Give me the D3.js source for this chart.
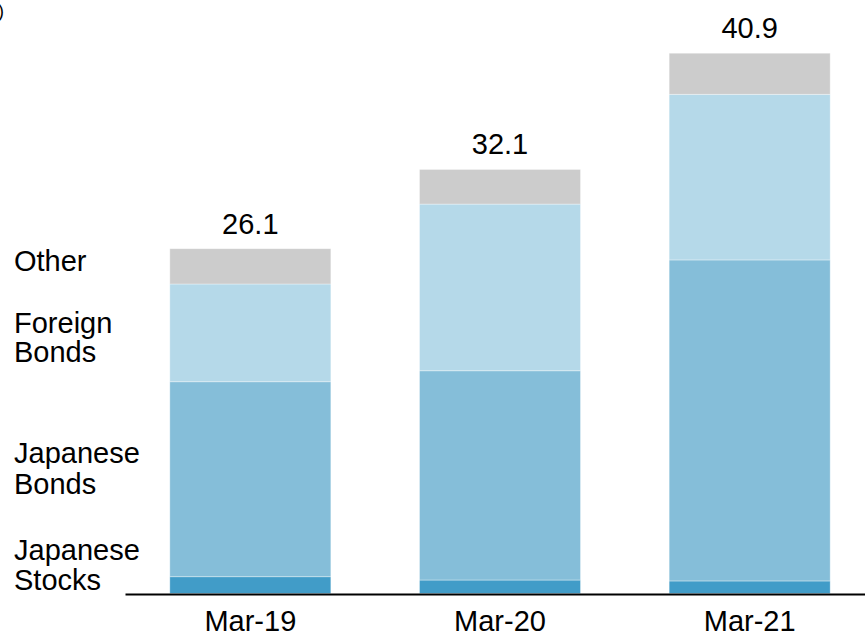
<!DOCTYPE html>
<html>
<head>
<meta charset="utf-8">
<script src="https://cdn.jsdelivr.net/npm/d3@7/dist/d3.min.js"></script>
<style>
  html, body { margin: 0; padding: 0; background: #fff; }
  svg { display: block; font-family: "Liberation Sans", Arial, sans-serif; }
</style>
</head>
<body>
<svg id="chart" width="865" height="635"></svg>
<script>
// Fiscal year-end balances (trillion yen), stacked bottom to top
const categories = ["Mar-19", "Mar-20", "Mar-21"];
const seriesNames = ["Japanese Stocks", "Japanese Bonds", "Foreign Bonds", "Other"];
const japaneseStocks = [1.27, 1.02, 0.95];
const japaneseBonds = [14.76, 15.84, 24.30];
const foreignBonds = [7.40, 12.62, 12.54];
const other = [2.67, 2.62, 3.11];
const totals = [26.1, 32.1, 40.9];
const seriesLabels = [["Japanese", "Stocks"], ["Japanese", "Bonds"], ["Foreign", "Bonds"], ["Other"]];
const unitLabel = "(Trillion yen)";

const colors = ["#419cc8", "#85bed9", "#b5d9e9", "#cccccc"];

const W = 865, H = 635;
const baseY = 593.5;
const fontSize = 29;
const svg = d3.select("#chart");

const rows = categories.map((c, i) => ({
  cat: c,
  "Japanese Stocks": japaneseStocks[i],
  "Japanese Bonds": japaneseBonds[i],
  "Foreign Bonds": foreignBonds[i],
  "Other": other[i],
  total: totals[i]
}));

const x = d3.scaleBand()
  .domain(categories)
  .range([125.5, 874.5])
  .paddingInner(0.355)
  .paddingOuter(0.1775);

const y = d3.scaleLinear()
  .domain([0, 45])
  .range([baseY, baseY - 45 * 13.21]);

const stacked = d3.stack().keys(seriesNames)(rows);

// Stacked segments
svg.append("g")
  .selectAll("g")
  .data(stacked)
  .join("g")
    .attr("fill", (d, i) => colors[i])
  .selectAll("rect")
  .data(d => d)
  .join("rect")
    .attr("x", d => x(d.data.cat))
    .attr("width", x.bandwidth())
    .attr("y", d => y(d[1]))
    .attr("height", d => y(d[0]) - y(d[1]))
    .attr("stroke", "#ffffff")
    .attr("stroke-opacity", 0.45)
    .attr("stroke-width", 0.8);

// Totals above bars
svg.append("g")
  .selectAll("text")
  .data(rows)
  .join("text")
    .attr("x", d => x(d.cat) + x.bandwidth() / 2)
    .attr("y", d => y(d.total) - 15)
    .attr("text-anchor", "middle")
    .attr("font-size", fontSize)
    .attr("fill", "#000")
    .text(d => d.total.toFixed(1));

// Baseline axis
const xAxis = d3.axisBottom(x).tickSize(0).tickPadding(0);
const axisG = svg.append("g")
  .attr("transform", `translate(0,${baseY + 1})`)
  .call(xAxis);
axisG.select(".domain")
  .attr("d", `M${x.range()[0]},0H${W}`)
  .attr("stroke", "#000")
  .attr("stroke-width", 2);
axisG.selectAll(".tick text")
  .attr("font-size", fontSize)
  .attr("font-family", "Liberation Sans, Arial, sans-serif")
  .attr("fill", "#000")
  .attr("y", 36)
  .attr("dy", 0);

// Series names on the left, beside the first bar's segments
const labelBaselines = [[560, 590], [463, 494], [333, 362], [271]];
const lg = svg.append("g").attr("font-size", fontSize).attr("fill", "#000");
seriesLabels.forEach((lines, i) => {
  const t = lg.append("text");
  lines.forEach((ln, k) => {
    t.append("tspan").attr("x", 14).attr("y", labelBaselines[i][k]).text(ln);
  });
});

// Unit note (runs off the left edge)
svg.append("text")
  .attr("x", 4)
  .attr("y", 17)
  .attr("text-anchor", "end")
  .attr("font-size", 18)
  .attr("fill", "#000")
  .text(unitLabel);
</script>
</body>
</html>
